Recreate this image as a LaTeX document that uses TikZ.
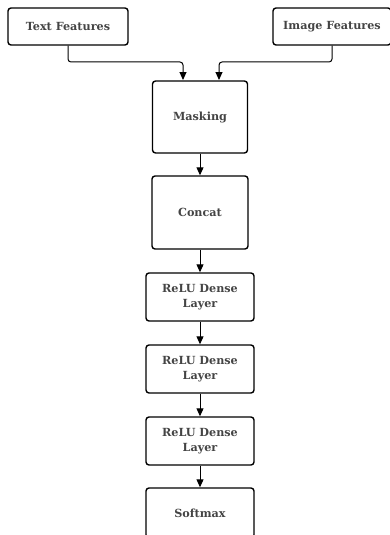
\documentclass[tikz,border=0pt]{standalone}
\usepackage{fontspec}
\setmainfont{DejaVu Serif}
\usetikzlibrary{arrows.meta}
\definecolor{txt}{HTML}{444444}
\begin{document}
\begin{tikzpicture}[x=1pt,y=-1pt,
  box/.style={draw=black, line width=1.4pt, rounded corners=3pt, inner sep=0pt,
    font=\bfseries\fontsize{11.2}{15}\selectfont, text=txt, align=center},
  conn/.style={draw=black, line width=1pt, rounded corners=3pt, -{Triangle[length=8pt,width=7pt]}}]
\useasboundingbox (0,0) rectangle (390,535);
\clip (0,0) rectangle (390,535);
\node[box, minimum width=120pt, minimum height=37pt] (text) at (68,26.5) {Text Features};
\node[box, minimum width=118pt, minimum height=37pt] (image) at (332,26.5) {Image Features};
\node[box, minimum width=95pt, minimum height=72pt] (mask) at (200,117) {Masking};
\node[box, minimum width=96pt, minimum height=73pt] (concat) at (200,212.5) {Concat};
\node[box, minimum width=108pt, minimum height=48pt] (relu1) at (200,297) {ReLU Dense\\Layer};
\node[box, minimum width=108pt, minimum height=48pt] (relu2) at (200,369) {ReLU Dense\\Layer};
\node[box, minimum width=108pt, minimum height=48pt] (relu3) at (200,441) {ReLU Dense\\Layer};
\node[box, minimum width=108pt, minimum height=50pt] (soft) at (200,513) {Softmax};
\coordinate (m1) at (183,80);
\coordinate (m2) at (219,80);
\draw[conn] (text.south) |- (176,62) -| (m1);
\draw[conn] (image.south) |- (226,62) -| (m2);
\draw[conn] (mask.south) -- (concat.north);
\draw[conn] (concat.south) -- (relu1.north);
\draw[conn] (relu1.south) -- (relu2.north);
\draw[conn] (relu2.south) -- (relu3.north);
\draw[conn] (relu3.south) -- (soft.north);
\end{tikzpicture}
\end{document}
